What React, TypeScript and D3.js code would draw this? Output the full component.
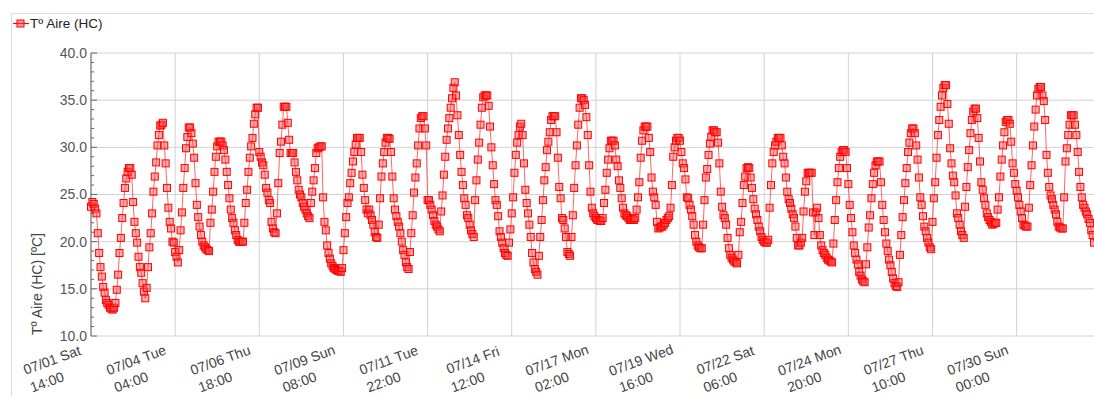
import React from "react";
import * as d3 from "d3";

// Hourly air temperature readings (ºC) for "Tº Aire (HC)", first reading 07/01 14:00
const readings1 = [
  23.7, 24.2, 24.0, 23.5, 23.0, 20.9, 18.8, 17.3, 16.3, 15.2, 14.6, 13.8, 13.5, 13.3, 13.0, 12.9,
  12.8, 13.0, 13.5, 14.9, 16.5, 18.8, 20.4, 22.5, 24.1, 25.7, 26.7, 27.4,
  27.8, 27.8, 27.1, 24.2, 22.1, 20.9, 19.9, 18.4, 17.3, 16.7, 15.6, 14.7,
  14.0, 15.1, 17.3, 19.4, 20.9, 23.0, 25.3, 26.9, 28.4, 30.2, 31.3, 32.3, 32.4,
  32.6, 30.2, 28.3, 25.7, 23.6, 22.1, 21.4, 20.0, 19.9, 18.9, 18.4,
  17.8, 19.1, 21.2, 23.1, 25.7, 27.8, 29.9, 31.1, 32.1,
  32.1, 31.5, 30.4, 28.9, 26.2, 23.9, 22.6, 21.6, 20.7, 20.0, 19.6, 19.4, 19.2, 19.1,
  19.0, 22.0, 23.4, 25.3, 27.4, 29.0, 30.1, 30.6, 30.6,
  30.6, 30.2, 29.7, 28.7, 27.4, 26.0, 24.6, 23.4, 22.5, 22.0, 21.2, 20.7, 20.2, 20.0, 20.0, 20.0,
  20.0, 22.0, 24.1, 25.5, 27.4, 28.9, 30.1, 31.0, 32.5, 33.5, 34.2,
  34.2, 29.5, 29.0, 28.4, 28.1, 27.1, 25.7, 25.2, 24.4, 24.1, 22.1, 21.4, 21.0,
];
const readings2 = [
  20.9, 23.0, 26.2, 29.4, 30.6, 32.4, 34.3, 34.3,
  34.3, 32.6, 30.8, 29.4, 29.4, 29.4, 28.4, 27.4, 26.5, 25.5, 25.0, 24.7, 24.1, 23.7, 23.4, 23.0, 22.7,
  22.5, 24.1, 25.3, 26.5, 27.8, 29.4, 29.9, 30.0, 30.1,
  30.1, 24.7, 22.1, 21.2, 19.6, 18.8, 18.2, 17.7, 17.4, 17.2, 17.1, 17.0, 16.9, 16.9,
  16.8, 17.2, 19.1, 20.9, 22.6, 24.1, 24.7, 26.2, 27.3, 28.5, 29.5, 30.3, 31.0, 31.0,
  31.0, 29.5, 27.1, 25.7, 24.4, 23.4, 23.0, 23.4, 22.8, 22.3, 21.8, 21.0, 20.5,
  20.4, 21.8, 24.6, 26.9, 28.3, 29.5, 30.5, 31.0,
  31.0, 30.9, 29.5, 26.9, 24.6, 23.4, 22.7, 22.1, 21.6, 20.9, 20.0, 19.1, 18.6, 17.8, 17.3,
  17.1, 18.9, 20.9, 22.8, 25.2, 26.8, 28.3, 30.2, 32.0, 33.1, 33.3,
  33.3, 32.0, 30.2, 24.4, 24.4, 23.9, 23.4, 22.8, 22.2, 21.8, 21.6, 21.3,
  21.1, 23.2, 24.9, 27.1, 29.0, 30.8, 32.0, 33.1, 34.2, 35.2, 36.3,
  36.9, 35.5, 33.4, 31.3, 29.2, 27.4, 26.0, 24.6, 23.9, 22.8, 22.5, 21.8, 21.2, 20.8,
];
const readings3 = [
  20.5, 24.4, 26.5, 28.7, 30.5, 32.4, 34.2, 35.3, 35.5, 35.5,
  35.5, 34.4, 32.2, 30.0, 28.1, 26.1, 24.4, 23.9, 22.7, 21.1, 20.5, 19.9, 19.3, 18.8, 18.6,
  18.5, 19.9, 21.3, 23.0, 24.7, 27.3, 29.2, 30.5, 31.3, 32.2,
  32.5, 31.3, 28.3, 25.5, 24.1, 23.0, 21.8, 20.5, 18.8, 17.8, 17.1, 16.8,
  16.5, 18.5, 20.5, 22.3, 24.4, 26.5, 27.9, 29.7, 30.6, 31.6, 32.9, 33.3, 33.3,
  33.3, 31.6, 28.9, 25.8, 24.6, 22.5, 22.3, 21.4, 20.5, 18.9, 18.7,
  18.5, 20.5, 22.8, 25.7, 28.1, 30.2, 32.4, 34.2, 35.2, 35.2,
  35.0, 34.5, 33.2, 31.3, 28.1, 25.3, 23.6, 23.0, 22.7, 22.5, 22.3, 22.3, 22.2,
  22.2, 22.5, 24.1, 25.5, 27.3, 28.7, 29.9, 30.7, 30.7,
  30.7, 30.2, 28.7, 28.0, 26.5, 25.7, 24.6, 23.6, 23.0, 22.8, 22.7, 22.5, 22.3, 22.3, 22.4,
  22.3, 22.5, 23.4, 24.7, 26.3, 28.9, 30.7, 31.8, 32.2, 32.2,
  32.2, 31.0, 29.5, 26.8, 25.3, 24.7, 23.9, 22.1, 21.4, 21.5, 21.6,
];
const readings4 = [
  21.6, 21.8, 22.0, 22.3, 22.5, 22.7, 23.6, 26.0, 29.0, 30.0, 30.7, 31.0,
  31.0, 30.7, 29.5, 28.3, 27.8, 26.6, 24.7, 24.6, 23.9, 23.4, 22.7, 21.8, 20.7, 20.0, 19.6, 19.4, 19.3,
  19.3, 21.8, 24.4, 26.8, 27.7, 29.2, 30.4, 31.1, 31.8, 31.8, 31.6,
  31.6, 30.5, 28.3, 25.3, 23.7, 22.8, 22.5, 21.8, 20.4, 19.3, 18.6, 18.3, 18.1, 17.9, 17.8,
  17.7, 18.6, 21.0, 22.1, 24.1, 26.0, 26.9, 27.8,
  27.9, 27.8, 26.8, 25.7, 24.5, 23.5, 22.9, 22.3, 21.6, 21.1, 20.5, 20.2, 20.0, 19.9,
  19.9, 20.2, 23.6, 26.0, 28.3, 29.5, 30.2, 30.6, 31.0, 31.0,
  31.0, 30.2, 29.0, 28.3, 26.8, 25.3, 24.5, 24.1, 23.5, 22.9, 22.5, 21.6, 20.4, 19.6,
  19.6, 19.9, 20.4, 23.2, 25.3, 26.4, 27.3, 27.3, 27.3,
  27.3, 23.1, 20.7, 23.1, 23.6, 22.5, 20.7, 19.6, 19.1, 18.8, 18.6, 18.3, 18.1, 18.0, 17.9,
];
const readings5 = [
  17.8, 19.8, 22.3, 24.4, 26.3, 27.8, 29.0, 29.5, 29.7, 29.7,
  29.5, 27.8, 26.1, 23.9, 22.5, 21.0, 19.6, 18.8, 18.1, 17.6, 16.8, 16.4, 16.0, 15.8,
  15.7, 17.6, 19.4, 21.5, 22.8, 24.6, 26.1, 27.3, 28.1, 28.5, 28.5,
  28.5, 26.3, 23.9, 22.3, 21.0, 19.8, 19.0, 18.1, 17.5, 16.8, 16.1, 15.6, 15.3,
  15.2, 15.7, 18.6, 20.7, 22.6, 24.4, 26.2, 27.8, 29.5, 30.5, 31.5, 32.0, 32.0,
  31.5, 30.2, 28.7, 26.8, 24.7, 23.9, 22.7, 21.6, 21.1, 20.4, 19.9, 19.4,
  19.2, 22.1, 24.6, 26.3, 28.9, 31.3, 32.9, 34.3, 35.5, 36.3,
  36.6, 36.6, 34.6, 32.5, 29.9, 28.3, 27.0, 26.3, 24.9, 23.0, 22.5, 21.8, 21.1, 20.7,
  20.4, 23.7, 25.8, 27.9, 29.7, 31.5, 32.9, 33.8, 34.1,
  34.1, 33.1, 31.0, 28.5, 26.3, 25.5, 24.6, 23.9, 23.0, 22.6, 22.3, 22.1, 21.8, 21.9, 22.0,
];
const readings6 = [
  22.0, 23.4, 24.7, 26.9, 28.7, 30.2, 31.6, 32.7, 32.9,
  32.9, 32.5, 30.6, 28.3, 27.3, 26.1, 25.4, 24.7, 23.9, 23.2, 22.5, 21.8, 21.7, 21.6,
  21.6, 23.6, 26.0, 28.1, 30.2, 32.2, 34.0, 35.5, 36.2, 36.4,
  36.4, 35.5, 34.9, 32.9, 29.2, 27.3, 25.8, 24.9, 24.5, 23.9, 23.4, 22.9, 22.1, 21.6, 21.5, 21.4,
  21.4, 24.7, 28.5, 29.9, 31.3, 32.4, 33.4, 33.4,
  33.4, 32.4, 31.3, 29.5, 27.4, 25.8, 24.7, 23.9, 23.6, 23.2, 22.9, 22.4, 22.0, 21.2, 20.7, 19.9,
];

const seriesName = "Tº Aire (HC)";
const yTitle = "Tº Aire (HC) [ºC]";
const firstReading = new Date(2023, 6, 1, 14, 0);
const tickStepHours = 62;
const yMajorTicks = [10, 15, 20, 25, 30, 35, 40];

const W = 1094;
const H = 396;
const FONT = "'Liberation Sans', Arial, Helvetica, sans-serif";
const RED = "#ff0000";

export default function App() {
  const temps = [...readings1, ...readings2, ...readings3, ...readings4, ...readings5, ...readings6];
  const points = temps.map((t, i) => ({ date: d3.timeHour.offset(firstReading, i), t }));
  const lastReading = points[points.length - 1].date;

  const plot = { left: 91, right: 1094, top: 53, bottom: 336 };
  const x = d3.scaleTime().domain([firstReading, lastReading]).range([plot.left, plot.right]);
  const y = d3.scaleLinear().domain([10, 40]).range([plot.bottom, plot.top]);

  const line = d3
    .line<{ date: Date; t: number }>()
    .x((d) => x(d.date))
    .y((d) => y(d.t));

  const xTicks = d3
    .range(0, temps.length, tickStepHours)
    .map((h) => d3.timeHour.offset(firstReading, h));
  const yMinor = d3.range(10, 40.5, 1);

  const fmtDay = d3.timeFormat("%m/%d %a");
  const fmtTime = d3.timeFormat("%H:%M");
  const angle = -20;
  const ms = 7;

  return (
    <svg
      width={W}
      height={H}
      style={{ position: "absolute", left: 0, top: 0, background: "#fff" }}
      fontFamily={FONT}
    >
      <defs>
        <clipPath id="plot-clip">
          <rect x={80} y={plot.top - 10} width={W - 80} height={plot.bottom - plot.top + 20} />
        </clipPath>
      </defs>

      {/* outer panel */}
      <rect x={11.5} y={13.5} width={W} height={H} fill="none" stroke="#dcdcdc" />

      {/* legend */}
      <g>
        <line x1={13} x2={29} y1={23.5} y2={23.5} stroke={RED} strokeWidth={1.2} />
        <rect
          x={20.5 - 3.5}
          y={23.5 - 3.5}
          width={ms}
          height={ms}
          fill="rgba(255,60,60,0.5)"
          stroke={RED}
        />
        <text x={30} y={28} fontSize={13.5} fill="#222">
          {seriesName}
        </text>
      </g>

      {/* grid */}
      {yMajorTicks.map((v) => (
        <line
          key={`gy${v}`}
          x1={plot.left}
          x2={plot.right}
          y1={y(v)}
          y2={y(v)}
          stroke="#d2d2d2"
          strokeWidth={1}
        />
      ))}
      {xTicks.map((d, i) => (
        <line
          key={`gx${i}`}
          x1={x(d)}
          x2={x(d)}
          y1={plot.top}
          y2={plot.bottom}
          stroke="#d2d2d2"
          strokeWidth={1}
        />
      ))}

      {/* y axis */}
      <line x1={plot.left} x2={plot.left} y1={plot.top} y2={plot.bottom} stroke="#666" />
      {yMinor.map((v) => (
        <line
          key={`ym${v}`}
          x1={plot.left}
          x2={plot.left + (v % 5 === 0 ? 6 : 3)}
          y1={y(v)}
          y2={y(v)}
          stroke="#666"
        />
      ))}
      {yMajorTicks.map((v) => (
        <text
          key={`yl${v}`}
          x={87}
          y={y(v)}
          dy="0.35em"
          textAnchor="end"
          fontSize={14}
          fill="#555"
        >
          {v.toFixed(1)}
        </text>
      ))}
      <text
        transform={`translate(42,335) rotate(-90)`}
        fontSize={14}
        fill="#444"
        textAnchor="start"
      >
        {yTitle}
      </text>

      {/* x tick labels */}
      {xTicks.map((d, i) => {
        const tx = x(d);
        return (
          <g key={`xl${i}`} fill="#444" fontSize={14}>
            <text
              transform={`translate(${tx - 39},${360}) rotate(${angle})`}
              textAnchor="middle"
              dy="0.35em"
            >
              {fmtDay(d)}
            </text>
            <text
              transform={`translate(${tx - 44},${382}) rotate(${angle})`}
              textAnchor="middle"
              dy="0.35em"
            >
              {fmtTime(d)}
            </text>
          </g>
        );
      })}

      {/* series */}
      <g clipPath="url(#plot-clip)">
        <path d={line(points) ?? ""} fill="none" stroke="rgba(255,0,0,0.6)" strokeWidth={1} />
        {points.map((p, i) => (
          <rect
            key={i}
            x={x(p.date) - ms / 2}
            y={y(p.t) - ms / 2}
            width={ms}
            height={ms}
            fill="rgba(255,70,70,0.45)"
            stroke={RED}
            strokeWidth={1}
          />
        ))}
      </g>
    </svg>
  );
}
